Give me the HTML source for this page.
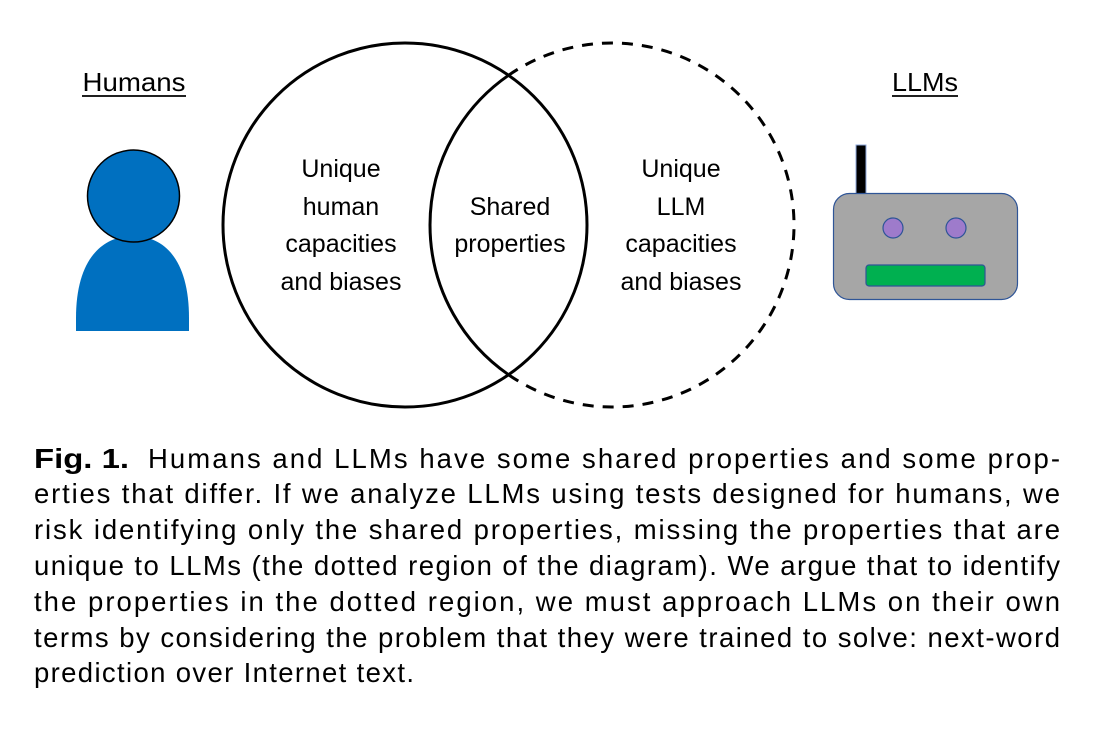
<!DOCTYPE html>
<html><head><meta charset="utf-8"><style>
html,body{margin:0;padding:0;background:#fff;}
svg{display:block;}
text{font-family:"Liberation Sans",sans-serif;fill:#000;}
</style></head><body>
<svg width="1096" height="732" viewBox="0 0 1096 732" xmlns="http://www.w3.org/2000/svg">
<rect width="1096" height="732" fill="#fff"/>
<!-- Humans -->
<text x="134" y="91" font-size="26" text-anchor="middle" textLength="103" lengthAdjust="spacingAndGlyphs">Humans</text>
<line x1="82" y1="96" x2="186" y2="96" stroke="#000" stroke-width="1.8"/>
<path d="M76,331 L76,318 C76,262 100,236 133,236 C166,236 189,262 189,318 L189,331 Z" fill="#0070c0"/>
<circle cx="133.5" cy="196" r="46" fill="#0070c0" stroke="#000" stroke-width="1.5"/>
<!-- LLMs -->
<text x="925" y="91" font-size="26" text-anchor="middle" textLength="66" lengthAdjust="spacingAndGlyphs">LLMs</text>
<line x1="892" y1="96" x2="958" y2="96" stroke="#000" stroke-width="1.8"/>
<rect x="856" y="145" width="10" height="50" fill="#000" stroke="#8faadc" stroke-width="1"/>
<rect x="833.5" y="193.5" width="184" height="106" rx="16" fill="#a6a6a6" stroke="#2f5597" stroke-width="1.2"/>
<circle cx="893" cy="228" r="10" fill="#9e7bcb" stroke="#2f5597" stroke-width="1.2"/>
<circle cx="956" cy="228" r="10" fill="#9e7bcb" stroke="#2f5597" stroke-width="1.2"/>
<rect x="866" y="265" width="119" height="21" rx="3" fill="#00b050" stroke="#2f5597" stroke-width="1.2"/>
<!-- Venn -->
<path d="M508.5,75.3 A182,182 0 1 1 508.5,374.7" fill="none" stroke="#000" stroke-width="3" stroke-dasharray="11,9"/>
<path d="M508.5,75.3 A182,182 0 0 0 508.5,374.7" fill="none" stroke="#000" stroke-width="3"/>
<circle cx="405" cy="225" r="182" fill="none" stroke="#000" stroke-width="3"/>
<g font-size="25" text-anchor="middle">
<text x="341" y="177">Unique</text>
<text x="341" y="215">human</text>
<text x="341" y="252">capacities</text>
<text x="341" y="290">and biases</text>
<text x="510" y="215">Shared</text>
<text x="510" y="252">properties</text>
<text x="681" y="177">Unique</text>
<text x="681" y="215">LLM</text>
<text x="681" y="252">capacities</text>
<text x="681" y="290">and biases</text>
</g>
<!-- Caption -->
<g font-size="27.5">
<text x="34" y="468" textLength="95" lengthAdjust="spacingAndGlyphs"><tspan font-weight="bold">Fig. 1.</tspan></text>
<text x="148" y="468" textLength="912" lengthAdjust="spacing">Humans and LLMs have some shared properties and some prop-</text>
<text x="34" y="503" textLength="1026" lengthAdjust="spacing">erties that differ. If we analyze LLMs using tests designed for humans, we</text>
<text x="34" y="539" textLength="1026" lengthAdjust="spacing">risk identifying only the shared properties, missing the properties that are</text>
<text x="34" y="575" textLength="1026" lengthAdjust="spacing">unique to LLMs (the dotted region of the diagram). We argue that to identify</text>
<text x="34" y="611" textLength="1026" lengthAdjust="spacing">the properties in the dotted region, we must approach LLMs on their own</text>
<text x="34" y="647" textLength="1026" lengthAdjust="spacing">terms by considering the problem that they were trained to solve: next-word</text>
<text x="34" y="682" textLength="380" lengthAdjust="spacing">prediction over Internet text.</text>
</g>
</svg>
</body></html>
